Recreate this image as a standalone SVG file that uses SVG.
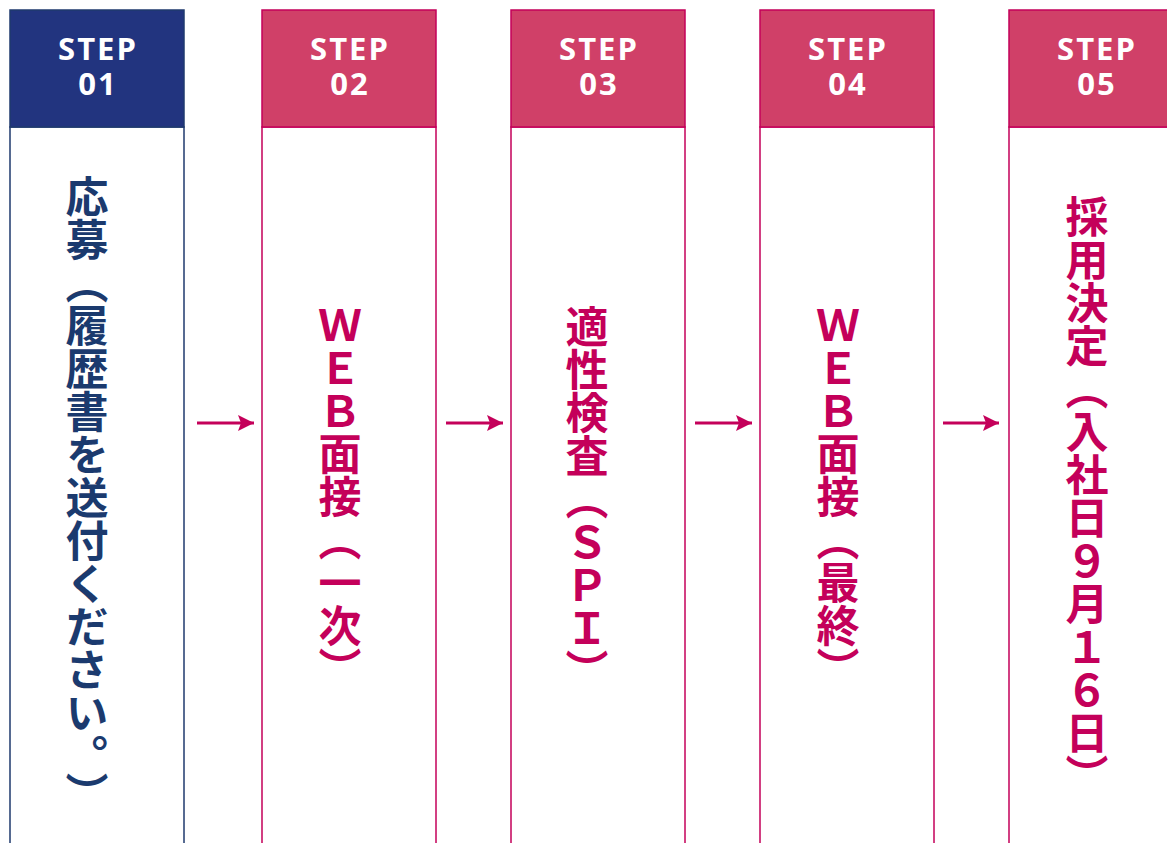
<svg xmlns="http://www.w3.org/2000/svg" width="1167" height="843" viewBox="0 0 1167 843">
<style>
.hdr-n{fill:#22347f;stroke:#1f3a6e;stroke-width:1.5}
.hdr-p{fill:#d04068;stroke:#c4005a;stroke-width:1.5}
.body-n{fill:#ffffff;stroke:#1f3a6e;stroke-width:1.5}
.body-p{fill:#ffffff;stroke:#c4005a;stroke-width:1.5}
.ht{font-family:"Open Sans","Noto Sans","Liberation Sans",sans-serif;font-weight:bold;font-size:31px;fill:#ffffff;text-anchor:middle;letter-spacing:2px}
.vt{font-family:"Noto Sans CJK JP","Noto Sans",sans-serif;font-weight:bold;font-size:43px;writing-mode:vertical-rl}
.vn{fill:#1b3a6e}
.vp{fill:#c4005a}
.conn{stroke:#c4005a;stroke-width:3;fill:none;marker-end:url(#ah)}
</style>
<defs>
<marker id="ah" markerUnits="userSpaceOnUse" markerWidth="17" markerHeight="17" refX="16" refY="8" orient="auto">
<path d="M0,0 L16,8 L0,16 L3,8 z" fill="#c4005a"/>
</marker>
</defs>
<rect x="0" y="0" width="1167" height="843" fill="#ffffff"/>
<g id="step1">
<rect class="body-n" x="10" y="127" width="174" height="780"/>
<rect class="hdr-n" x="10" y="10" width="174" height="117"/>
<text class="ht"><tspan x="98" y="60">STEP</tspan><tspan x="98" y="95">01</tspan></text>
<text class="vt vn" x="87" y="175.5">応募（履歴書を送付ください。<tspan dy="16">）</tspan></text>
</g>
<g id="step2">
<rect class="body-p" x="262" y="127" width="174" height="780"/>
<rect class="hdr-p" x="262" y="10" width="174" height="117"/>
<text class="ht"><tspan x="350" y="60">STEP</tspan><tspan x="350" y="95">02</tspan></text>
<text class="vt vp" x="340" y="303.5">ＷＥＢ面接（一次）</text>
</g>
<g id="step3">
<rect class="body-p" x="511" y="127" width="174" height="780"/>
<rect class="hdr-p" x="511" y="10" width="174" height="117"/>
<text class="ht"><tspan x="599" y="60">STEP</tspan><tspan x="599" y="95">03</tspan></text>
<text class="vt vp" x="587" y="305.5">適性検査（ＳＰＩ）</text>
</g>
<g id="step4">
<rect class="body-p" x="760" y="127" width="174" height="780"/>
<rect class="hdr-p" x="760" y="10" width="174" height="117"/>
<text class="ht"><tspan x="848" y="60">STEP</tspan><tspan x="848" y="95">04</tspan></text>
<text class="vt vp" x="838" y="303.5">ＷＥＢ面接（最終）</text>
</g>
<g id="step5">
<rect class="body-p" x="1009" y="127" width="174" height="780"/>
<rect class="hdr-p" x="1009" y="10" width="174" height="117"/>
<text class="ht"><tspan x="1097" y="60">STEP</tspan><tspan x="1097" y="95">05</tspan></text>
<text class="vt vp" x="1087" y="195.5">採用決定（入社日９月１６日）</text>
</g>
<g id="connectors">
<line class="conn" x1="197" y1="423" x2="254" y2="423"/>
<line class="conn" x1="446" y1="423" x2="503" y2="423"/>
<line class="conn" x1="695" y1="423" x2="752" y2="423"/>
<line class="conn" x1="943" y1="423" x2="999" y2="423"/>
</g>
</svg>
